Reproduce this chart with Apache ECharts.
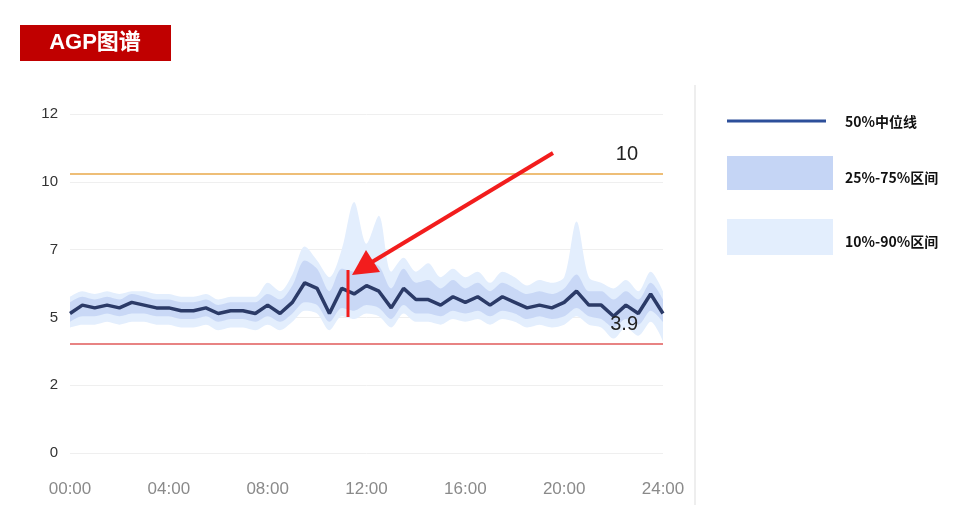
<!DOCTYPE html>
<html>
<head>
<meta charset="utf-8">
<script src="https://cdn.jsdelivr.net/npm/echarts@6/dist/echarts.min.js"></script>
<style>html,body{margin:0;padding:0;background:#fff}#agp{width:979px;height:530px}</style>
</head>
<body>
<div id="agp"></div>
<script>
// half-hour samples, 00:00 .. 24:00
var times = [];
for (var i = 0; i <= 48; i++) {
    var h = Math.floor(i / 2);
    times.push((h < 10 ? '0' : '') + h + (i % 2 ? ':30' : ':00'));
}
var p50 = [5.0,5.3,5.2,5.3,5.2,5.4,5.3,5.2,5.2,5.1,5.1,5.2,5.0,5.1,5.1,5.0,5.3,5.0,5.4,6.1,5.9,5.0,5.9,5.7,6.0,5.8,5.2,5.9,5.5,5.5,5.3,5.6,5.4,5.6,5.3,5.6,5.4,5.2,5.3,5.2,5.4,5.8,5.3,5.3,4.9,5.3,5.0,5.7,5.0];
var p25 = [4.7,4.9,4.9,5.0,4.9,5.0,5.0,4.9,4.9,4.8,4.8,4.9,4.7,4.8,4.8,4.7,4.9,4.7,5.0,5.4,5.3,4.7,5.2,5.1,5.3,5.2,4.8,5.3,5.0,5.0,4.9,5.1,5.0,5.1,4.9,5.1,5.0,4.8,4.9,4.8,4.9,5.2,4.9,4.8,4.5,4.8,4.6,5.1,4.7];
var p75 = [5.4,5.6,5.5,5.6,5.5,5.7,5.6,5.5,5.5,5.4,5.4,5.5,5.3,5.4,5.4,5.4,5.7,5.5,6.0,6.9,6.6,5.8,6.6,6.5,6.8,6.7,5.9,6.6,6.1,6.2,5.9,6.2,5.9,6.1,5.8,6.1,5.9,5.7,5.8,5.7,5.9,6.4,5.8,5.8,5.5,5.8,5.5,6.1,5.5];
var p10 = [4.5,4.6,4.6,4.7,4.6,4.7,4.7,4.6,4.6,4.5,4.5,4.6,4.4,4.5,4.5,4.4,4.6,4.4,4.7,5.1,5.0,4.4,4.9,4.8,5.0,4.9,4.5,5.0,4.7,4.7,4.6,4.8,4.7,4.8,4.6,4.8,4.7,4.5,4.6,4.5,4.6,4.9,4.6,4.5,4.1,4.5,4.2,4.7,4.0];
var p90 = [5.6,5.8,5.7,5.8,5.7,5.8,5.8,5.7,5.7,5.6,5.6,5.7,5.5,5.6,5.6,5.6,6.1,5.8,6.4,7.4,6.9,6.3,7.3,9.0,7.5,8.5,6.5,7.0,6.5,6.8,6.3,6.6,6.3,6.5,6.1,6.5,6.3,6.0,6.2,6.1,6.3,8.3,6.3,6.1,5.9,6.2,5.8,6.5,5.8];
var upperLimit = 10, lowerLimit = 3.9;

function diff(hi, lo) { return hi.map(function (v, i) { return +(v - lo[i]).toFixed(2); }); }

var chart = echarts.init(document.getElementById('agp'));
var band = { type: 'line', symbol: 'none', smooth: 0.3, lineStyle: { width: 0 } };
chart.setOption({
    animation: false,
    grid: { left: 70, right: 316, top: 114, bottom: 77 },
    xAxis: {
        type: 'category', data: times, boundaryGap: false,
        axisLine: { show: false }, axisTick: { show: false }, splitLine: { show: false },
        axisLabel: { color: '#8a8a8a', fontSize: 17, margin: 28, interval: 7 }
    },
    yAxis: {
        type: 'value', min: 0, max: 12.15, interval: 2.43,
        axisLine: { show: false }, axisTick: { show: false },
        splitLine: { lineStyle: { color: '#efefef' } },
        axisLabel: { color: '#333', fontSize: 15, margin: 12,
            formatter: function (v) { return Math.round(v); } }
    },
    series: [
        Object.assign({}, band, { stack: 'outer', data: p10, areaStyle: { opacity: 0 } }),
        Object.assign({}, band, { stack: 'outer', data: diff(p90, p10), areaStyle: { color: '#e3eefd', opacity: 1 } }),
        Object.assign({}, band, { stack: 'inner', data: p25, areaStyle: { opacity: 0 } }),
        Object.assign({}, band, { stack: 'inner', data: diff(p75, p25), areaStyle: { color: '#c5d5f5', opacity: 0.9 } }),
        {
            type: 'line', symbol: 'none', data: p50,
            lineStyle: { color: '#2b3a67', width: 3.5 },
            markLine: {
                symbol: 'none', silent: true,
                label: { position: 'insideEndTop', fontSize: 20, color: '#222', distance: [25, 10] },
                data: [
                    { yAxis: upperLimit, lineStyle: { color: '#e8a84a', width: 1.5, type: 'solid' }, label: { formatter: '10' } },
                    { yAxis: lowerLimit, lineStyle: { color: '#e05a5a', width: 1.5, type: 'solid' }, label: { formatter: '3.9' } }
                ]
            }
        }
    ],
    graphic: [
        { type: 'rect', z: 100, shape: { x: 20, y: 25, width: 151, height: 36 }, style: { fill: '#c00000' } },
        { type: 'text', z: 101, x: 95, y: 43, style: { text: 'AGP图谱', fill: '#fff', font: 'bold 22px "Liberation Sans", "Noto Sans CJK SC"', align: 'center', verticalAlign: 'middle' } },
        { type: 'line', z: 100, shape: { x1: 695, y1: 85, x2: 695, y2: 505 }, style: { stroke: '#eeeeee', lineWidth: 2 } },
        { type: 'line', z: 100, shape: { x1: 727, y1: 121, x2: 826, y2: 121 }, style: { stroke: '#2d4f9a', lineWidth: 3 } },
        { type: 'text', z: 100, x: 845, y: 122, style: { text: '50%中位线', fill: '#111', font: 'bold 14px "Noto Sans CJK SC"', verticalAlign: 'middle' } },
        { type: 'rect', z: 100, shape: { x: 727, y: 156, width: 106, height: 34 }, style: { fill: '#c5d5f5' } },
        { type: 'text', z: 100, x: 845, y: 178, style: { text: '25%-75%区间', fill: '#111', font: 'bold 14px "Noto Sans CJK SC"', verticalAlign: 'middle' } },
        { type: 'rect', z: 100, shape: { x: 727, y: 219, width: 106, height: 36 }, style: { fill: '#e3eefd' } },
        { type: 'text', z: 100, x: 845, y: 242, style: { text: '10%-90%区间', fill: '#111', font: 'bold 14px "Noto Sans CJK SC"', verticalAlign: 'middle' } },
        // annotation arrow
        { type: 'line', z: 100, shape: { x1: 553, y1: 153, x2: 372, y2: 262 }, style: { stroke: '#f21d1d', lineWidth: 4 } },
        { type: 'polygon', z: 100, shape: { points: [[352, 275], [366, 250], [380, 272]] }, style: { fill: '#f21d1d' } },
        { type: 'line', z: 100, shape: { x1: 348, y1: 270, x2: 348, y2: 317 }, style: { stroke: '#f21d1d', lineWidth: 3 } }
    ]
});
</script>
</body>
</html>
